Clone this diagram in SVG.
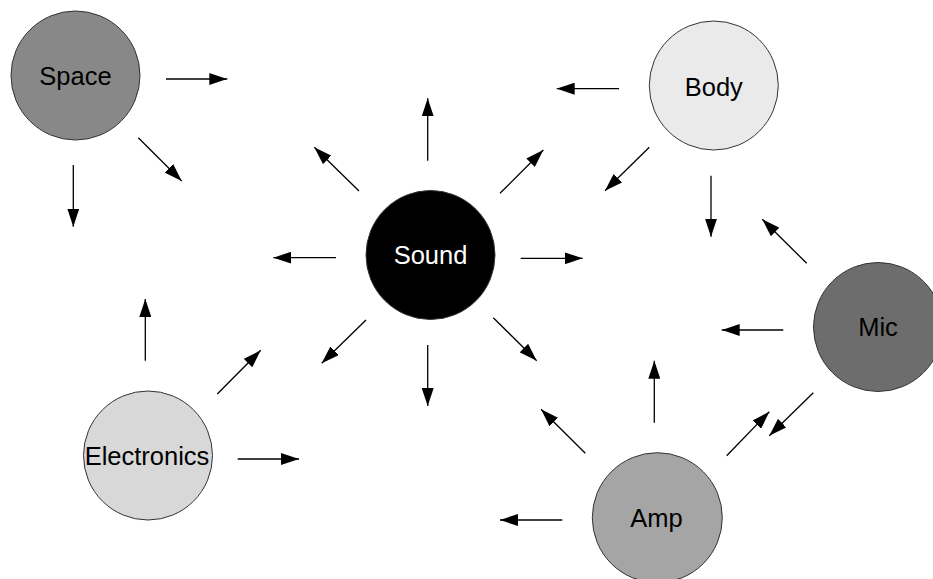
<svg xmlns="http://www.w3.org/2000/svg" width="933" height="579" viewBox="0 0 933 579">
<defs>
<marker id="ah" viewBox="0 0 18 12" refX="18" refY="6" markerWidth="18" markerHeight="12" markerUnits="userSpaceOnUse" orient="auto">
<path d="M0,0 L18,6 L0,12 z" fill="#000"/>
</marker>
</defs>
<style>
.n{stroke:#333;stroke-width:1}
.t{font-family:"Liberation Sans",Arial,sans-serif;font-size:25.5px;text-anchor:middle;fill:#000}
.c line{stroke:#000;stroke-width:1.3;marker-end:url(#ah)}
</style>
<rect width="933" height="579" fill="#fff"/>
<g id="space"><circle class="n" cx="75.5" cy="75.5" r="64.5" fill="#888888"/><text class="t" x="75.5" y="85">Space</text></g>
<g id="body"><circle class="n" cx="713.8" cy="85.5" r="64.5" fill="#eaeaea"/><text class="t" x="713.8" y="95.5">Body</text></g>
<g id="sound"><circle class="n" cx="430.5" cy="255" r="64.5" fill="#000"/><text class="t" x="430.5" y="263.5" style="fill:#fff">Sound</text></g>
<g id="mic"><circle class="n" cx="878" cy="327" r="64.5" fill="#6d6d6d"/><text class="t" x="878" y="336">Mic</text></g>
<g id="amp"><circle class="n" cx="657.3" cy="517.7" r="65" fill="#a5a5a5"/><text class="t" x="656.5" y="527">Amp</text></g>
<g id="electronics"><circle class="n" cx="148" cy="455.5" r="64.5" fill="#d8d8d8"/><text class="t" x="147" y="465">Electronics</text></g>
<g id="connectors" class="c">
<line x1="166" y1="79" x2="227.3" y2="79"/>
<line x1="138.3" y1="137.7" x2="181.7" y2="181"/>
<line x1="73.3" y1="165" x2="73.3" y2="226.7"/>
<line x1="427.7" y1="160.7" x2="427.7" y2="98.3"/>
<line x1="359" y1="191" x2="314.3" y2="147.3"/>
<line x1="500" y1="193.3" x2="543.3" y2="150"/>
<line x1="336" y1="257.7" x2="273.3" y2="257.7"/>
<line x1="520.7" y1="258.3" x2="582.7" y2="258.3"/>
<line x1="366" y1="320" x2="321.7" y2="363.3"/>
<line x1="427.7" y1="345" x2="427.7" y2="406"/>
<line x1="493.3" y1="317.7" x2="536.7" y2="360.7"/>
<line x1="619" y1="88.7" x2="556.7" y2="88.7"/>
<line x1="649.3" y1="147.3" x2="605" y2="190.7"/>
<line x1="711" y1="175.7" x2="711" y2="236.7"/>
<line x1="806.7" y1="263.3" x2="762.3" y2="219.3"/>
<line x1="783.3" y1="330" x2="721.7" y2="330"/>
<line x1="813.3" y1="392.7" x2="769.3" y2="435.7"/>
<line x1="585.3" y1="453.3" x2="541" y2="409.3"/>
<line x1="654.3" y1="422.7" x2="654.3" y2="360.7"/>
<line x1="726.7" y1="455.7" x2="769.3" y2="411.7"/>
<line x1="562.3" y1="520" x2="500" y2="520"/>
<line x1="145.3" y1="360.7" x2="145.3" y2="299"/>
<line x1="217.3" y1="394" x2="260.7" y2="350.3"/>
<line x1="237.7" y1="459" x2="299" y2="459"/>
</g>
</svg>
